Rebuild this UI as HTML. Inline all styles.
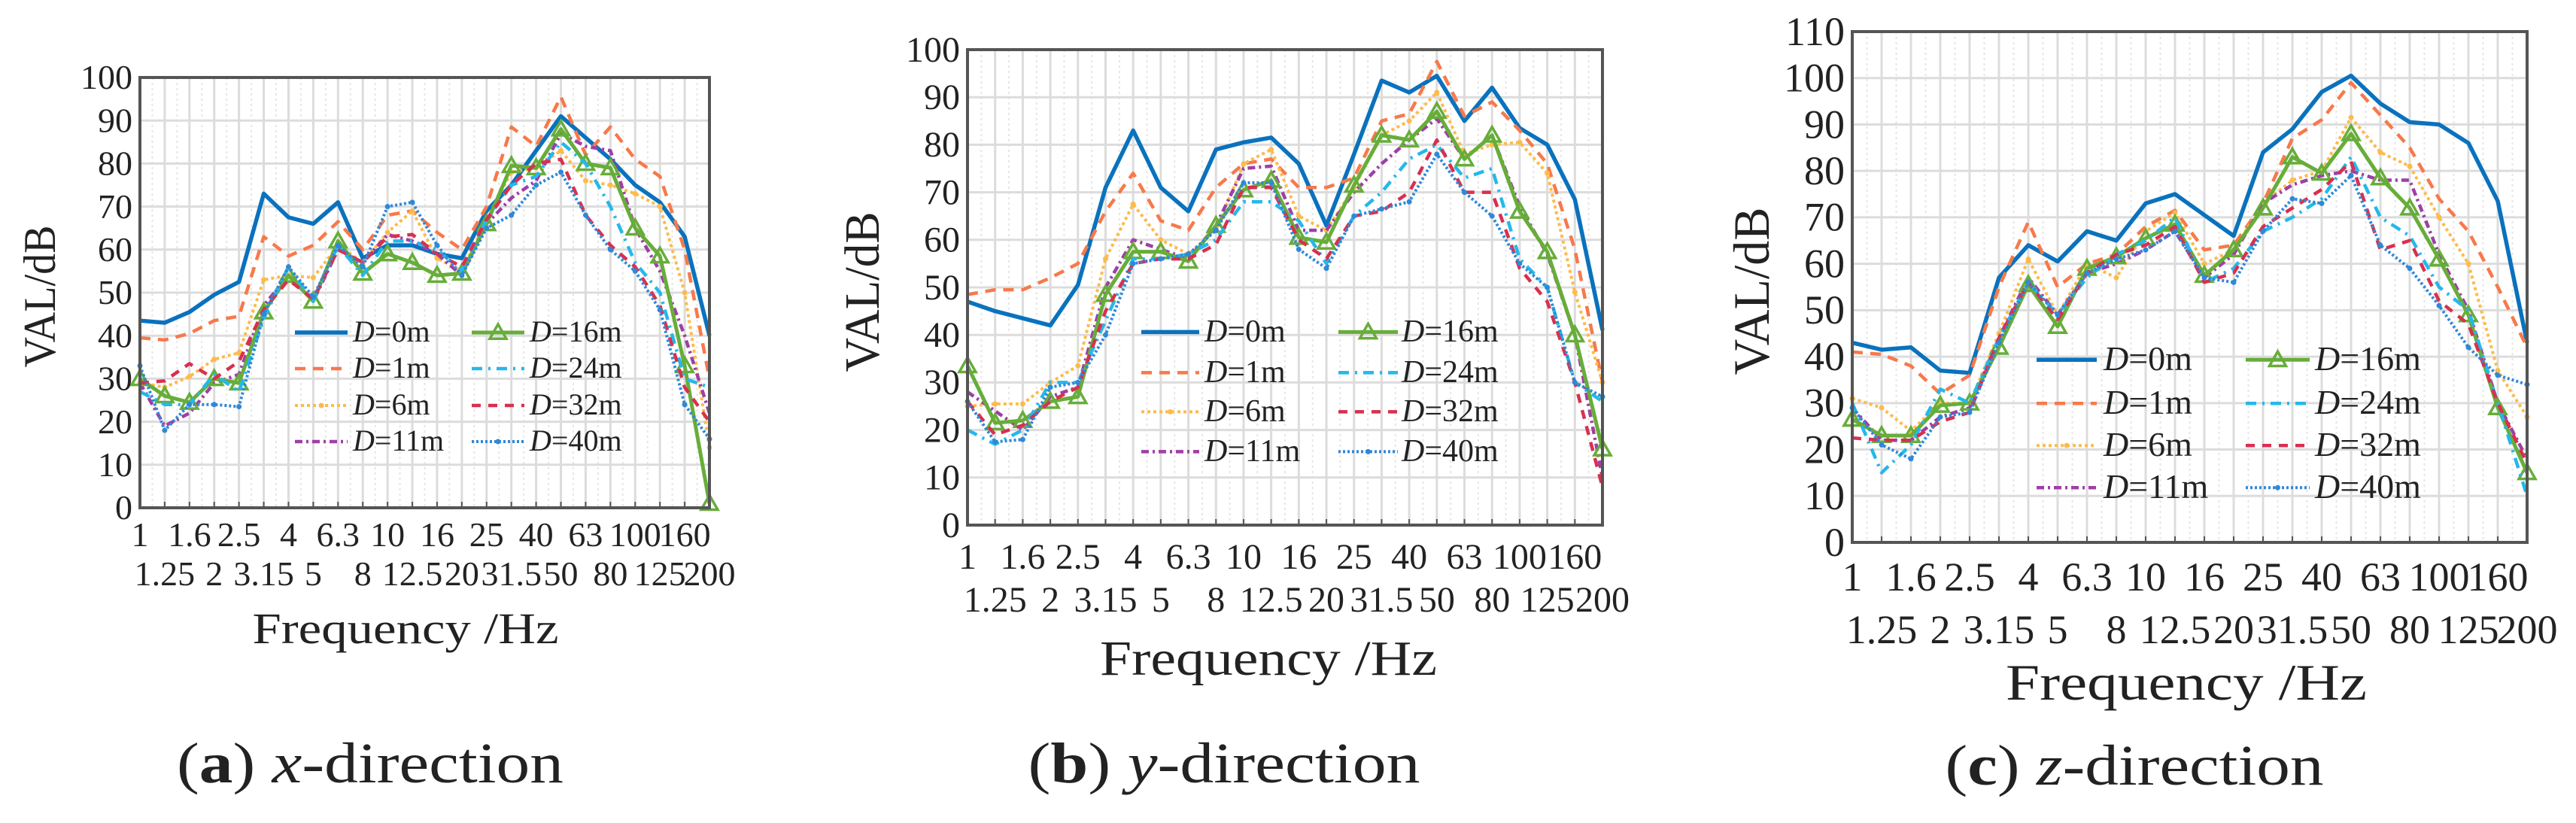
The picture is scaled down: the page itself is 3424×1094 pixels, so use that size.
<!DOCTYPE html>
<html><head><meta charset="utf-8"><style>
html,body{margin:0;padding:0;background:#fff;}
svg{display:block;}
text{font-family:"Liberation Serif","Times New Roman",serif;fill:#222;}
</style></head><body>
<svg id="fig" width="3424" height="1094" viewBox="0 0 3424 1094" xmlns="http://www.w3.org/2000/svg"></svg>
<script>
const freqLabels=["1","1.25","1.6","2","2.5","3.15","4","5","6.3","8","10","12.5","16","20","25","31.5","40","50","63","80","100","125","160","200"];
const seriesNames=["D=0m","D=1m","D=6m","D=11m","D=16m","D=24m","D=32m","D=40m"];
const xD0=[43.5,43,45.5,49.5,52.5,73,67.5,66,71,58,61,61,59,58,69,75,83,91,86,81,75,71,63,40];
const xD1=[39.5,39,40.5,43.5,44.5,63,58.5,61,66.5,60,68,69,64,60,70,88.5,84,95.5,82,88.5,81,77,60,30];
const xD6=[29,28,30.5,34.5,36,53,54,53.5,61,57,64,69,58,55,67,78,79,83,76,75,73,70,50,14];
const xD11=[29,19,22,29,31,47,54,48,60,57,63.5,62,59,54,66,72,76,87,84,83,65,55,40,22];
const xD16=[30,26,24.5,30,29,45.5,54,48,62,54.5,59,57,54,54.5,66,79.5,79,88,80,79,65,58.5,33,1];
const xD24=[27,24,24,31,27,44,56,48,61,54,62,62,60,55,67,75,77,85,80,70,57,50,30,28];
const xD32=[29,29.5,33.5,30,34,46,53,48.5,60,57,63,63.5,59,56,67,75,80,81,68,61,56,47,28,20];
const xD40=[33,18,24,24,23.5,45,56,49,61,56,70,71,61,54,65,68,75,78,68,60,55,46,24,16];
const yD0=[47,45,43.5,42,50.5,71,83,71,66,79,80.5,81.5,76,63,78,93.5,91,94.5,85,92,83.5,80,68.5,41];
const yD1=[48.5,49.5,49.5,52,55,66,74,64,62,71,76,77,71,71,73,85,86.5,97.5,86,89,83,76,58,30];
const yD6=[25,25.5,25.5,30,33.5,56,67.5,60,57,62,76,79,65,62,71,82,85,91,78,80,80.5,74,49,30];
const yD11=[28,24,20,27,29,50,60,58,56,63,75,75.5,62,62,70,76,81,85.5,77,82,67,57,40,10];
const yD16=[33.5,21.5,22,26,27,48.5,57.5,57.5,55.5,63,70.5,72.5,60.5,59.5,71.5,82,81,87,77,82,66,57.5,40,16];
const yD24=[20,17,20,30,30,43,56,56,57,60,68,68,64,55,65,70,77,80,73,75,56,50,30,26];
const yD32=[26,19,21,26,29,45,55,56,56,59,71,71,60,56,65,66,70,81,70,70,54,47,30,8];
const yD40=[26,17.5,18,29,30,40,55,56,57,62,72,72,58,54,65,66.5,68,78,70,65,55,50,30,27];
const zD0=[43,41.5,42,37,36.5,57,64,60.5,67,65,73,75,70.5,66,84,89,97,100.5,94.5,90.5,90,86,73.5,43];
const zD1=[41,40.5,38,32,36,55,69,55,60,62,68,71.5,63,64,73,87,91,99,92,85,74,67,55,42];
const zD6=[31,29,24,30,30,45,61,49,60,57,67,71,60,63,73,78,80,91.5,84,81,70,60,37,27];
const zD11=[29,22,22,27,29,44,57,49,58,60,63,67,57,62,73,77,79,80,78,78,62,50,30,18];
const zD16=[26.5,23,23,29.5,30,42,55.5,46.5,59,61.5,65.5,68.5,57.5,63,72,83,79.5,88,78.5,72,61,49,29,15];
const zD24=[30,15,21,33,30,44,56,49,57,62,65,70,56,59,67,70,74,83,70,66,55,50,30,10];
const zD32=[22.5,22,22,26,28,44,56,48,58,62,64,68,56,58,68,72,76,82,63,65,52,47,30,17];
const zD40=[29,21,18,27,28,43,56,49,58,61,63,67,57,56,67,74,73,79,64,59,51,42,36,34];
const yTicksAB=[0,10,20,30,40,50,60,70,80,90,100];
const yTicksC=[0,10,20,30,40,50,60,70,80,90,100,110];

const styles=[
 {c:"#0a72bd",w:5.5,d:"",m:""},
 {c:"#f7794a",w:4.5,d:"14 10",m:""},
 {c:"#fdbb4c",w:4,d:"4 4",m:"dot"},
 {c:"#9e3fa6",w:4.5,d:"10 5 3 5",m:""},
 {c:"#67ad3a",w:5,d:"",m:"tri"},
 {c:"#25b8ea",w:4.5,d:"14 8 3 8",m:""},
 {c:"#d8304f",w:4.5,d:"12 10",m:""},
 {c:"#2f88d8",w:4,d:"3 3",m:"dot"}
];
const NS="http://www.w3.org/2000/svg";
const svg=document.getElementById('fig');
function mk(tag,attrs,parent){const e=document.createElementNS(NS,tag);for(const k in attrs)e.setAttribute(k,attrs[k]);(parent||svg).appendChild(e);return e;}

const panels=[
 {id:"x",L:186,R:943,T:103,B:675,max:100,ticks:yTicksAB,data:[xD0,xD1,xD6,xD11,xD16,xD24,xD32,xD40],
  tf:46,up:726,lo:778,ylab:{x:73,y:394,len:189,f:60},fq:{x:539,y:855,len:407,f:58},cap:{x:492,y:1040,len:514,l:"a",t:"x"},
  leg:{rows:[454,502,551,599],c1:[392,462,469],c2:[627,697,704],f:40}},
 {id:"y",L:1286,R:2130,T:66,B:698,max:100,ticks:yTicksAB,data:[yD0,yD1,yD6,yD11,yD16,yD24,yD32,yD40],
  tf:48,up:756,lo:813,ylab:{x:1168,y:388,len:213,f:66},fq:{x:1686,y:897,len:448,f:66},cap:{x:1627,y:1040,len:521,l:"b",t:"y"},
  leg:{rows:[454,508,560,613],c1:[1517,1594,1601],c2:[1779,1858,1863],f:42}},
 {id:"z",L:2462,R:3359,T:42,B:721,max:110,ticks:yTicksC,data:[zD0,zD1,zD6,zD11,zD16,zD24,zD32,zD40],
  tf:54,up:785,lo:855,ylab:{x:2351,y:387,len:223,f:68},fq:{x:2906,y:930,len:480,f:68},cap:{x:2837,y:1043,len:503,l:"c",t:"z"},
  leg:{rows:[492,550,606,662],c1:[2707,2787,2796],c2:[2985,3070,3077],f:46}}
];

function marker(g,st,x,y,s){
  if(st.m==="tri"){const p=mk('polygon',{points:`${x},${y-s} ${x-s},${y+s*0.75} ${x+s},${y+s*0.75}`,fill:"none",stroke:st.c,"stroke-width":3.5},g);
    }
  else if(st.m==="dot"){const c=mk('circle',{cx:x,cy:y,r:3.5,fill:st.c},g);
    }
}

panels.forEach(p=>{
  const g=mk('g',{});
  
  
  const n=freqLabels.length;
  const xs=i=>p.L+(p.R-p.L)*i/(n-1);
  const ys=v=>p.B-(p.B-p.T)*v/p.max;
  const grid=mk('g',{stroke:"#dcdcdc","stroke-width":3},g);
  
  
  for(let i=0;i<n;i++)mk('line',{x1:xs(i),x2:xs(i),y1:p.T,y2:p.B},grid);
  for(let i=0;i<n-1;i++)mk('line',{x1:xs(i+0.5),x2:xs(i+0.5),y1:p.T,y2:p.B,stroke:"#e6e6e6","stroke-width":2,"stroke-dasharray":"3 4"},grid);
  p.ticks.forEach(t=>mk('line',{x1:p.L,x2:p.R,y1:ys(t),y2:ys(t)},grid));
  p.data.forEach((arr,si)=>{
    const st=styles[si];
    const sg=mk('g',{},g);
    
    
    const pts=arr.map((v,i)=>xs(i)+","+ys(v)).join(" ");
    const pl=mk('polyline',{points:pts,fill:"none",stroke:st.c,"stroke-width":st.w,"stroke-dasharray":st.d,"stroke-linejoin":"round"},sg);
    
    
    if(st.m)arr.forEach((v,i)=>marker(sg,st,xs(i),ys(v),st.m==="tri"?11:3));
  });
  const fr=mk('rect',{x:p.L,y:p.T,width:p.R-p.L,height:p.B-p.T,fill:"none",stroke:"#555","stroke-width":4},g);
  
  
  for(let i=0;i<n;i++){mk('line',{x1:xs(i),x2:xs(i),y1:p.B,y2:p.B-8,stroke:"#555","stroke-width":2},g);}
  p.ticks.forEach(t=>{
    const tx=mk('text',{x:p.L-10,y:ys(t)+p.tf*0.33,"text-anchor":"end","font-size":p.tf},g);
    tx.textContent=t;
    
    
  });
  freqLabels.forEach((l,i)=>{
    const tx=mk('text',{x:xs(i),y:i%2===0?p.up:p.lo,"text-anchor":"middle","font-size":p.tf},g);
    tx.textContent=l;
    
    
  });
  const yl=mk('text',{x:0,y:0,transform:`translate(${p.ylab.x},${p.ylab.y}) rotate(-90)`,"text-anchor":"middle","font-size":p.ylab.f,textLength:p.ylab.len,lengthAdjust:"spacingAndGlyphs"},g);
  yl.textContent="VAL/dB";
  
  
  const fq=mk('text',{x:p.fq.x,y:p.fq.y,"text-anchor":"middle","font-size":p.fq.f,textLength:p.fq.len,lengthAdjust:"spacingAndGlyphs"},g);
  fq.textContent="Frequency  /Hz";
  
  
  const cp=mk('text',{x:p.cap.x,y:p.cap.y,"text-anchor":"middle","font-size":76,textLength:p.cap.len,lengthAdjust:"spacingAndGlyphs"},g);
  cp.innerHTML=`(<tspan font-weight="bold">${p.cap.l}</tspan>) <tspan font-style="italic">${p.cap.t}</tspan>-direction`;
  
  
  const lg=mk('g',{},g);
  
  
  seriesNames.forEach((nm,si)=>{
    const col=si<4?p.leg.c1:p.leg.c2;
    const ry=p.leg.rows[si%4];
    const st=styles[si];
    const e=mk('g',{},lg);
    
    
    mk('line',{x1:col[0],x2:col[1],y1:ry-p.leg.f*0.3,y2:ry-p.leg.f*0.3,stroke:st.c,"stroke-width":st.w,"stroke-dasharray":st.d},e);
    if(st.m)marker(e,st,(col[0]+col[1])/2,ry-p.leg.f*0.3,st.m==="tri"?11:3);
    const t=mk('text',{x:col[2],y:ry,"font-size":p.leg.f},e);
    t.innerHTML=`<tspan font-style="italic">D</tspan>=${nm.slice(2)}`;
  });
});
</script>
</body></html>
